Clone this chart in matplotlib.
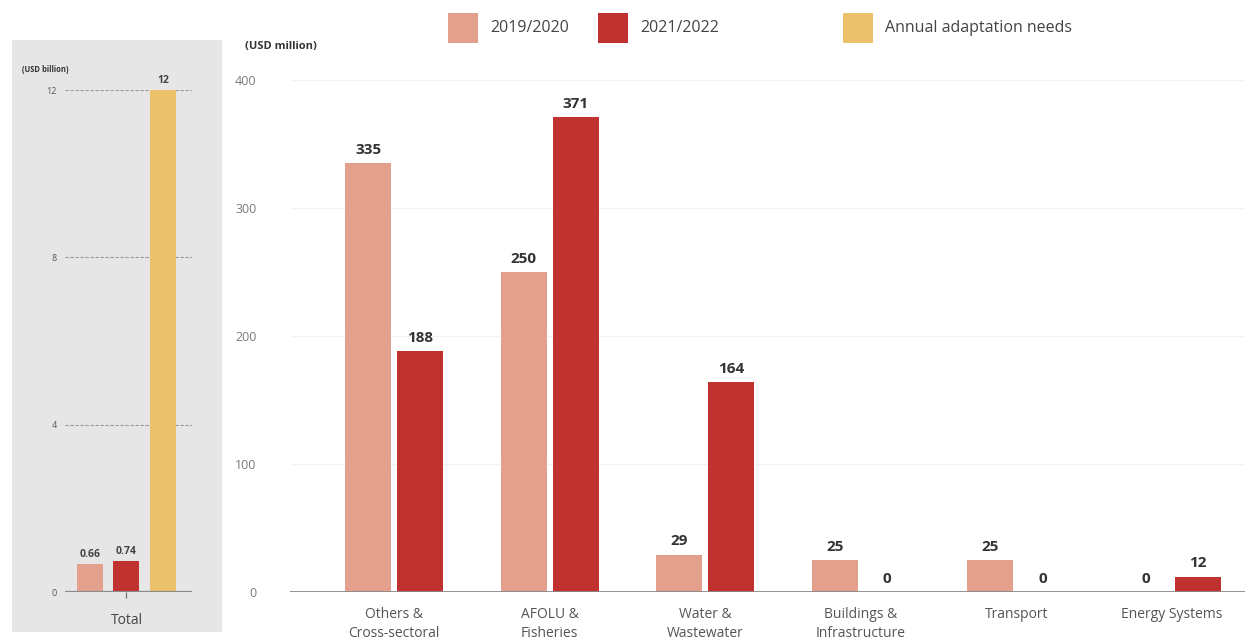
import numpy as np
import matplotlib.pyplot as plt
from matplotlib.patches import Rectangle

plt.rcParams['font.family'] = ['Open Sans', 'DejaVu Sans']

# data
sectors = ['Others &\nCross-sectoral', 'AFOLU &\nFisheries', 'Water &\nWastewater',
           'Buildings &\nInfrastructure', 'Transport', 'Energy Systems']
v_2019 = [335, 250, 29, 25, 25, 0]
v_2021 = [188, 371, 164, 0, 0, 12]
total_labels = ['0.66', '0.74', '12']
total_vals = [0.66, 0.74, 12]

c19 = '#e3a18d'
c21 = '#c0322f'
cneed = '#ecc16c'
txt = '#333333'

fig = plt.figure(figsize=(12.5, 6.41), dpi=100)

# grey panel behind the totals
fig.patches.append(Rectangle((12/1250, 1-632/641), 210/1250, 592/641,
                             transform=fig.transFigure, facecolor='#e6e6e6',
                             edgecolor='none', zorder=-5))

# ---- left: totals (USD billion)
axl = fig.add_axes([65/1250, 1-592/641, 127/1250, (592-90)/641])
axl.set_facecolor('none')
axl.set_zorder(2)
xl = np.arange(3)
axl.bar(xl, total_vals, width=0.71, color=[c19, c21, cneed], zorder=3)
for x, v, s in zip(xl, total_vals, total_labels):
    axl.text(x, v + 0.1, s, ha='center', va='bottom', fontsize=7.5,
             color='#444444', fontweight='bold', zorder=4)
axl.set_xlim(-0.68, 2.79)
axl.set_ylim(0, 12)
axl.set_yticks([0, 4, 8, 12])
axl.set_yticklabels(['0', '4', '8', '12'], fontsize=6.5, color='#555555')
for y in [4, 8, 12]:
    axl.axhline(y, color='#9a9a9a', lw=0.8, ls=(0, (3, 1.5)), zorder=1)
axl.axhline(0, color='#8a8a8a', lw=1.6, zorder=4)
axl.set_xticks([1])
axl.set_xticklabels(['Total'], fontsize=10, color='#444444')
axl.tick_params(axis='x', length=4, color='#666666', pad=11)
axl.tick_params(axis='y', length=0, pad=6)
for s in axl.spines.values():
    s.set_visible(False)
fig.text(22/1250, 1-70/641, '(USD billion)', fontsize=5.5, fontweight='bold',
         color='#333333', va='center')

# ---- right: by sector (USD million)
ax = fig.add_axes([290/1250, 1-592/641, 955/1250, (592-80)/641])
x = np.arange(len(sectors))
w = 0.296
off = 0.167
ax.bar(x - off, v_2019, width=w, color=c19, zorder=3)
ax.bar(x + off, v_2021, width=w, color=c21, zorder=3)
for xs, vals in [(x - off, v_2019), (x + off, v_2021)]:
    for xi, v in zip(xs, vals):
        ax.text(xi, v + 5, str(v), ha='center', va='bottom', fontsize=11,
                fontweight='bold', color=txt, zorder=4)
ax.set_xlim(-0.67, 5.47)
ax.set_ylim(0, 400)
ax.set_yticks([0, 100, 200, 300, 400])
ax.set_yticklabels(['0', '100', '200', '300', '400'], fontsize=9, color='#7a7a7a')
ax.tick_params(axis='y', length=0, pad=24)
for y in [100, 200, 300, 400]:
    ax.axhline(y, color='#f2f2f2', lw=1.0, zorder=1)
ax.axhline(0, color='#8a8a8a', lw=2, zorder=4)
ax.set_xticks(x)
ax.set_xticklabels(sectors, fontsize=10, color='#555555', linespacing=1.3)
ax.tick_params(axis='x', length=0, pad=11)
for s in ax.spines.values():
    s.set_visible(False)
ax.set_facecolor('none')
fig.text(245/1250, 1-46/641, '(USD million)', fontsize=8, fontweight='bold',
         color='#333333', va='center')

# legend
leg = [(448, c19, '2019/2020'), (598, c21, '2021/2022'), (843, cneed, 'Annual adaptation needs')]
for px, col, lab in leg:
    fig.patches.append(Rectangle((px/1250, 1-43/641), 30/1250, 30/641,
                                 transform=fig.transFigure, facecolor=col,
                                 edgecolor='none'))
    fig.text((px + 42)/1250, 1-28/641, lab, fontsize=11.5, color='#444444',
             va='center')

fig.savefig('out.png', dpi=100)
